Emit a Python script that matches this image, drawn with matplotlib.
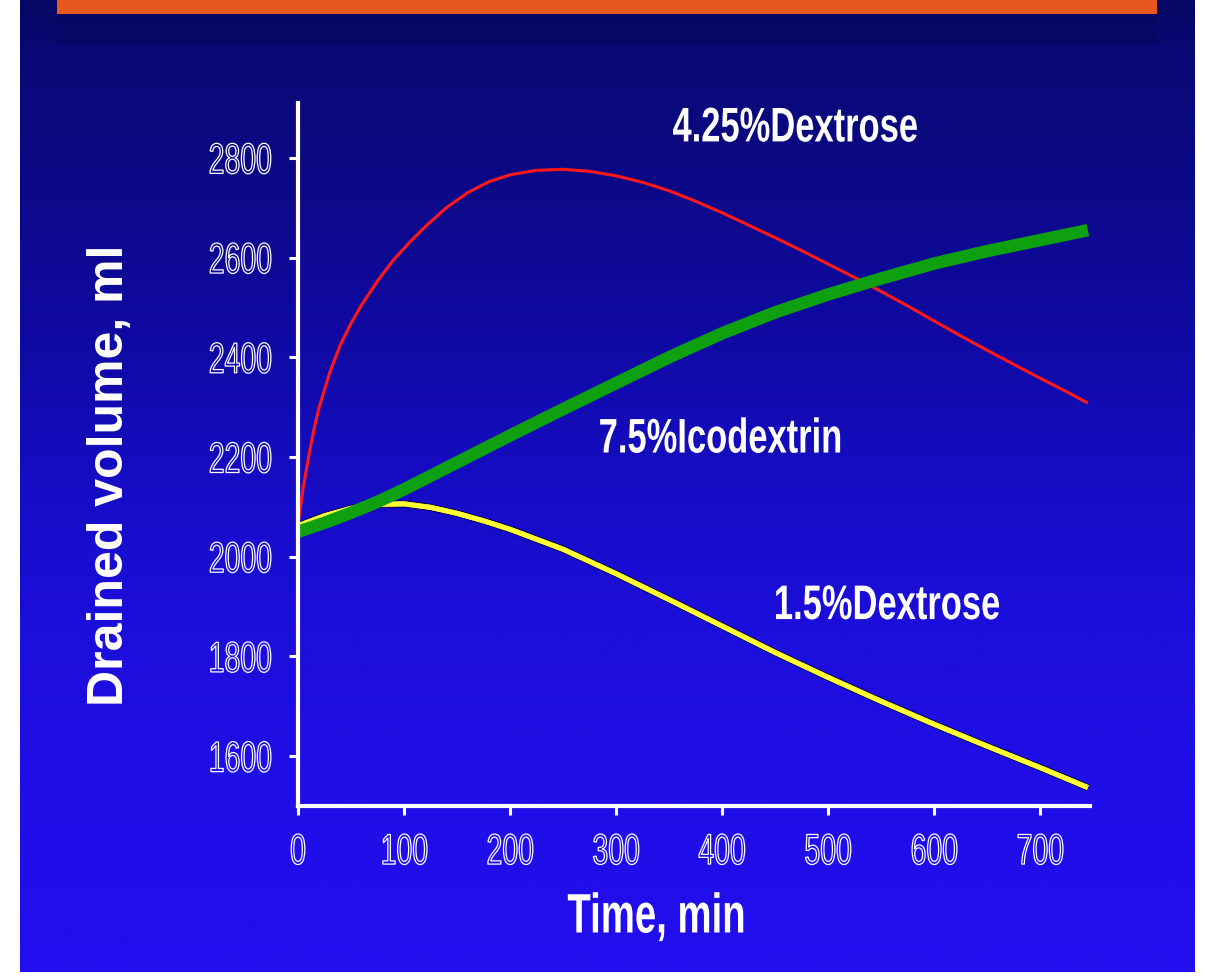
import numpy as np
import matplotlib
matplotlib.use("Agg")
import matplotlib.pyplot as plt
import matplotlib.patheffects as pe
from matplotlib.patches import Rectangle
from matplotlib.transforms import Affine2D

# drained volume (ml) against dwell time (min)
t_red = [0, 5, 10, 15, 20, 30, 40, 50, 60, 75, 90, 105, 120, 140, 160, 180, 200,
         225, 250, 275, 300, 325, 350, 375, 400, 425, 450, 475, 500, 525, 550,
         575, 600, 625, 650, 675, 700, 725, 745]
dextrose_425 = [2065, 2140, 2200, 2255, 2300, 2370, 2425, 2468, 2505, 2553, 2595,
                2630, 2662, 2700, 2730, 2752, 2766, 2775, 2777, 2773, 2764, 2751,
                2734, 2713, 2690, 2665, 2640, 2614, 2587, 2560, 2532, 2503, 2473,
                2443, 2414, 2386, 2358, 2331, 2308]

t_green = [0, 25, 50, 75, 100, 125, 150, 175, 200, 250, 300, 350, 400, 450, 500,
           550, 600, 650, 700, 745]
icodextrin_75 = [2050, 2068, 2088, 2110, 2135, 2162, 2189, 2216, 2243, 2296, 2348,
                 2400, 2448, 2490, 2526, 2558, 2588, 2613, 2635, 2655]

t_yellow = [0, 25, 50, 75, 100, 125, 150, 175, 200, 250, 300, 350, 400, 450, 500,
            550, 600, 650, 700, 745]
dextrose_15 = [2062, 2082, 2097, 2105, 2106, 2099, 2087, 2072, 2055, 2015, 1966,
               1914, 1861, 1808, 1758, 1710, 1664, 1620, 1577, 1537]

x_ticks = [0, 100, 200, 300, 400, 500, 600, 700]
y_ticks = [1600, 1800, 2000, 2200, 2400, 2600, 2800]

FONT = ["Liberation Sans", "DejaVu Sans"]
W, H = 1205, 977


class Condensed(pe.AbstractPathEffect):
    """Squeeze glyphs horizontally about the left, centre or right of the text."""

    def __init__(self, sx, anchor="center", edge=None, lw=1.0):
        super().__init__()
        self.sx = sx
        self.anchor = anchor
        self.edge = edge
        self.lw = lw

    def draw_path(self, renderer, gc, tpath, affine, rgbFace=None):
        ext = tpath.get_extents()
        xa = {"left": ext.x0, "center": (ext.x0 + ext.x1) / 2, "right": ext.x1}[self.anchor]
        px, py = affine.transform((xa, 0))
        squeeze = affine + Affine2D().translate(-px, -py).scale(self.sx, 1).translate(px, py)
        if self.edge is None:
            renderer.draw_path(gc, tpath, squeeze, rgbFace)
        else:
            gc0 = renderer.new_gc()
            gc0.copy_properties(gc)
            gc0.set_foreground(self.edge)
            gc0.set_linewidth(self.lw)
            renderer.draw_path(gc0, tpath, squeeze, None)
            gc0.restore()


fig = plt.figure(figsize=(W / 100, H / 100), dpi=100)
fig.patch.set_facecolor("white")

# slide background: navy at the top fading into bright blue
bg = fig.add_axes([0, 0, 1, 1])
bg.set_xlim(0, W)
bg.set_ylim(H, 0)
bg.axis("off")
stops_y = [0, 60, 200, 350, 480, 620, 800, 977]
stops_c = np.array([[6, 6, 100], [10, 8, 118], [12, 9, 138], [16, 10, 165],
                    [22, 12, 195], [28, 14, 218], [32, 14, 232], [34, 14, 238]]) / 255
rows = np.arange(H)
grad = np.stack([np.interp(rows, stops_y, stops_c[:, i]) for i in range(3)], axis=-1)
grad = np.repeat(grad[:, None, :], 2, axis=1)
bg.imshow(grad, extent=(20, 1195, 972, 0), aspect="auto", interpolation="bilinear")
bg.add_patch(Rectangle((57, 0), 1100, 14, color="#e8581e", lw=0))
bg.add_patch(Rectangle((57, 14), 1100, 30, color="#06065a", alpha=0.45, lw=0))

ax = fig.add_axes([298 / W, 1 - 806 / H, (1090 - 298) / W, (806 - 103) / H])
ax.set_facecolor("none")
ax.set_xlim(0, 747)
ax.set_ylim(1500, 2910)

ax.plot(t_yellow, dextrose_15, color="#ffff33", lw=3.6, solid_capstyle="butt",
        path_effects=[pe.withStroke(linewidth=5.2, foreground="#0a0a50"), pe.Normal()])
ax.plot(t_red, dextrose_425, color="#ff1818", lw=2.2, solid_capstyle="butt")
ax.plot(t_green, icodextrin_75, color="#0fa00f", lw=9, solid_capstyle="butt")

for side in ("top", "right"):
    ax.spines[side].set_visible(False)
for side in ("left", "bottom"):
    ax.spines[side].set_color("white")
    ax.spines[side].set_linewidth(3)

ax.set_xticks(x_ticks)
ax.set_yticks(y_ticks)
ax.tick_params(colors="white", length=6.5, width=2.2, direction="out")
ax.tick_params(axis="x", pad=13)
ax.tick_params(axis="y", pad=12)
for lab in ax.get_xticklabels():
    lab.set(fontfamily=FONT, fontsize=31)
    lab.set_path_effects([Condensed(0.66, "center", edge="white", lw=0.9)])
for lab in ax.get_yticklabels():
    lab.set(fontfamily=FONT, fontsize=31)
    lab.set_path_effects([Condensed(0.66, "right", edge="white", lw=0.9)])

ax.text(0.453, -0.16, "Time, min", transform=ax.transAxes, ha="center", va="center",
        color="white", fontsize=40, fontweight="bold", family=FONT,
        path_effects=[Condensed(0.69, "center")])
ax.text(-0.237, 0.471, "Drained volume, ml", transform=ax.transAxes, rotation=90,
        ha="center", va="center", color="white", fontsize=36, fontweight="bold",
        family=FONT)

# curve captions
lab_kw = dict(color="white", fontsize=35, fontweight="bold", family=FONT,
              ha="left", va="center", path_effects=[Condensed(0.71, "left")])
ax.text(353, 2858, "4.25%Dextrose", **lab_kw)
ax.text(283, 2234, "7.5%Icodextrin", **lab_kw)
ax.text(448, 1900, "1.5%Dextrose", **lab_kw)

fig.savefig("out.png", dpi=100)
